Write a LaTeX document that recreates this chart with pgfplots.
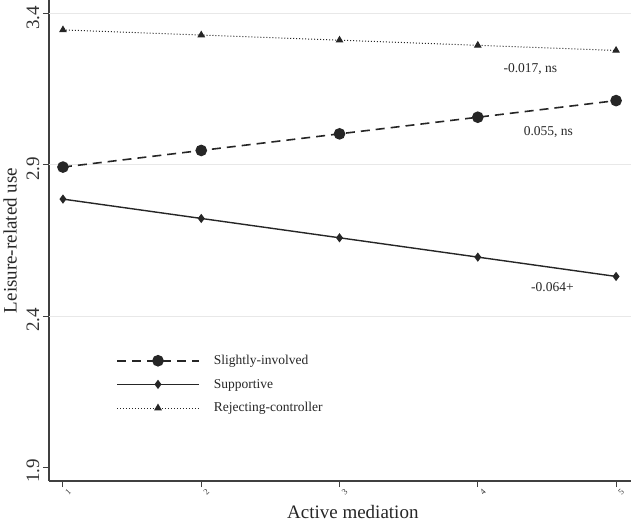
\documentclass[border=0pt]{standalone}
\usepackage{fontspec}
\setmainfont{Liberation Serif}
\usepackage{pgfplots}
\pgfplotsset{compat=1.18}
\begin{document}
\begin{tikzpicture}
\begin{axis}[
  scale only axis,
  width=582bp, height=481bp,
  xmin=0.899, xmax=5.108,
  ymin=1.854, ymax=3.446,
  axis x line*=bottom, axis y line*=left,
  axis line style={black!75, line width=1.1bp},
  tick style={black!75, line width=1bp},
  tick align=outside, major tick length=6bp,
  xtick={1,2,3,4,5},
  ytick={1.9},
  extra y ticks={2.4,2.9,3.4},
  extra y tick style={grid=major},
  major grid style={black!9, line width=1bp},
  /pgf/number format/assume math mode=true,
  /pgf/number format/fixed, /pgf/number format/precision=1,
  yticklabel style={rotate=90, anchor=south, xshift=-4bp, font=\fontsize{19bp}{22bp}\selectfont, text=black!80},
  xticklabel style={rotate=45, anchor=north, yshift=-1bp, font=\fontsize{8.5bp}{9bp}\selectfont, text=black!80},
  xlabel={Active mediation},
  ylabel={Leisure-related use},
  xlabel style={at={(axis description cs:0.522,-0.0645)}, anchor=center, font=\fontsize{19bp}{22bp}\selectfont, text=black!85},
  ylabel style={at={(axis description cs:-0.067,0.5)}, anchor=center, font=\fontsize{19bp}{22bp}\selectfont, text=black!85},
  legend style={at={(axis description cs:0.11,0.27)}, anchor=north west, draw=none, fill=none,
    font=\fontsize{13.5bp}{16bp}\selectfont, row sep=9bp, text=black!85},
  legend cell align=left,
  legend image code/.code={\draw[mark repeat=2,mark phase=2,#1] plot coordinates {(0bp,0bp)(41bp,0bp)(82bp,0bp)};
    \path (94bp,0bp);},
  clip=false,
]
\addplot[black!85, line width=1.6bp, dash pattern=on 9bp off 6bp, mark=*, mark size=5bp, mark options={solid}]
  coordinates {(1,2.893)(2,2.948)(3,3.003)(4,3.058)(5,3.113)};
\addlegendentry{Slightly-involved}
\addplot[black!85, line width=1.4bp, mark=diamond*, mark size=3.5bp, mark options={solid}]
  coordinates {(1,2.787)(2,2.723)(3,2.659)(4,2.595)(5,2.531)};
\addlegendentry{Supportive}
\addplot[black!85, line width=1bp, dotted, mark=triangle*, mark size=3.5bp, mark options={solid}]
  coordinates {(1,3.347)(2,3.330)(3,3.313)(4,3.296)(5,3.279)};
\addlegendentry{Rejecting-controller}
\node[font=\fontsize{13.5bp}{16bp}\selectfont, text=black!85] at (axis cs:4.38,3.218) {-0.017, ns};
\node[font=\fontsize{13.5bp}{16bp}\selectfont, text=black!85] at (axis cs:4.51,3.009) {0.055, ns};
\node[font=\fontsize{13.5bp}{16bp}\selectfont, text=black!85] at (axis cs:4.54,2.496) {-0.064+};
\end{axis}
\pgfresetboundingbox
\path (current axis.south west) ++(-49bp,-43bp) rectangle (current axis.north east);
\end{tikzpicture}
\end{document}
